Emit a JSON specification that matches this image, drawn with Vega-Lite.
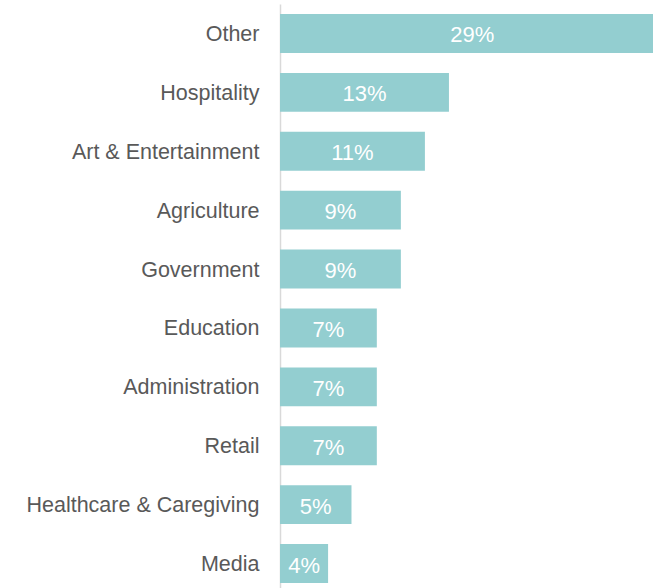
{
  "$schema": "https://vega.github.io/schema/vega-lite/v6.json",
  "width": 373,
  "height": 589,
  "autosize": {"type": "none"},
  "padding": {"left": 280, "top": 4, "right": 0, "bottom": 0},
  "background": "white",
  "config": {"view": {"stroke": null}},
  "data": {
    "values": [
      {"category": "Other", "value": 29.6, "label": "29%"},
      {"category": "Hospitality", "value": 13.0, "label": "13%"},
      {"category": "Art & Entertainment", "value": 11.15, "label": "11%"},
      {"category": "Agriculture", "value": 9.3, "label": "9%"},
      {"category": "Government", "value": 9.3, "label": "9%"},
      {"category": "Education", "value": 7.45, "label": "7%"},
      {"category": "Administration", "value": 7.45, "label": "7%"},
      {"category": "Retail", "value": 7.45, "label": "7%"},
      {"category": "Healthcare & Caregiving", "value": 5.5, "label": "5%"},
      {"category": "Media", "value": 3.7, "label": "4%"}
    ]
  },
  "transform": [{"calculate": "datum.value / 2", "as": "mid"}],
  "encoding": {
    "y": {
      "field": "category",
      "type": "nominal",
      "sort": null,
      "scale": {"paddingInner": 0.34, "paddingOuter": 0.17},
      "axis": {
        "title": null,
        "ticks": false,
        "domainColor": "#d9d9d9",
        "domainWidth": 1.5,
        "labelFont": "Liberation Sans",
        "labelFontSize": 21.5,
        "labelColor": "#595959",
        "labelPadding": 21,
        "labelOffset": 1.5,
        "labelLimit": 300
      }
    }
  },
  "layer": [
    {
      "mark": {"type": "bar", "color": "#93ced0", "clip": true},
      "encoding": {
        "x": {
          "field": "value",
          "type": "quantitative",
          "scale": {"domain": [0, 28.7], "nice": false, "zero": true},
          "axis": null
        }
      }
    },
    {
      "mark": {"type": "text", "color": "white", "font": "Liberation Sans", "fontSize": 22, "align": "center", "baseline": "middle", "dy": 2},
      "encoding": {
        "x": {"field": "mid", "type": "quantitative"},
        "text": {"field": "label"}
      }
    }
  ]
}
